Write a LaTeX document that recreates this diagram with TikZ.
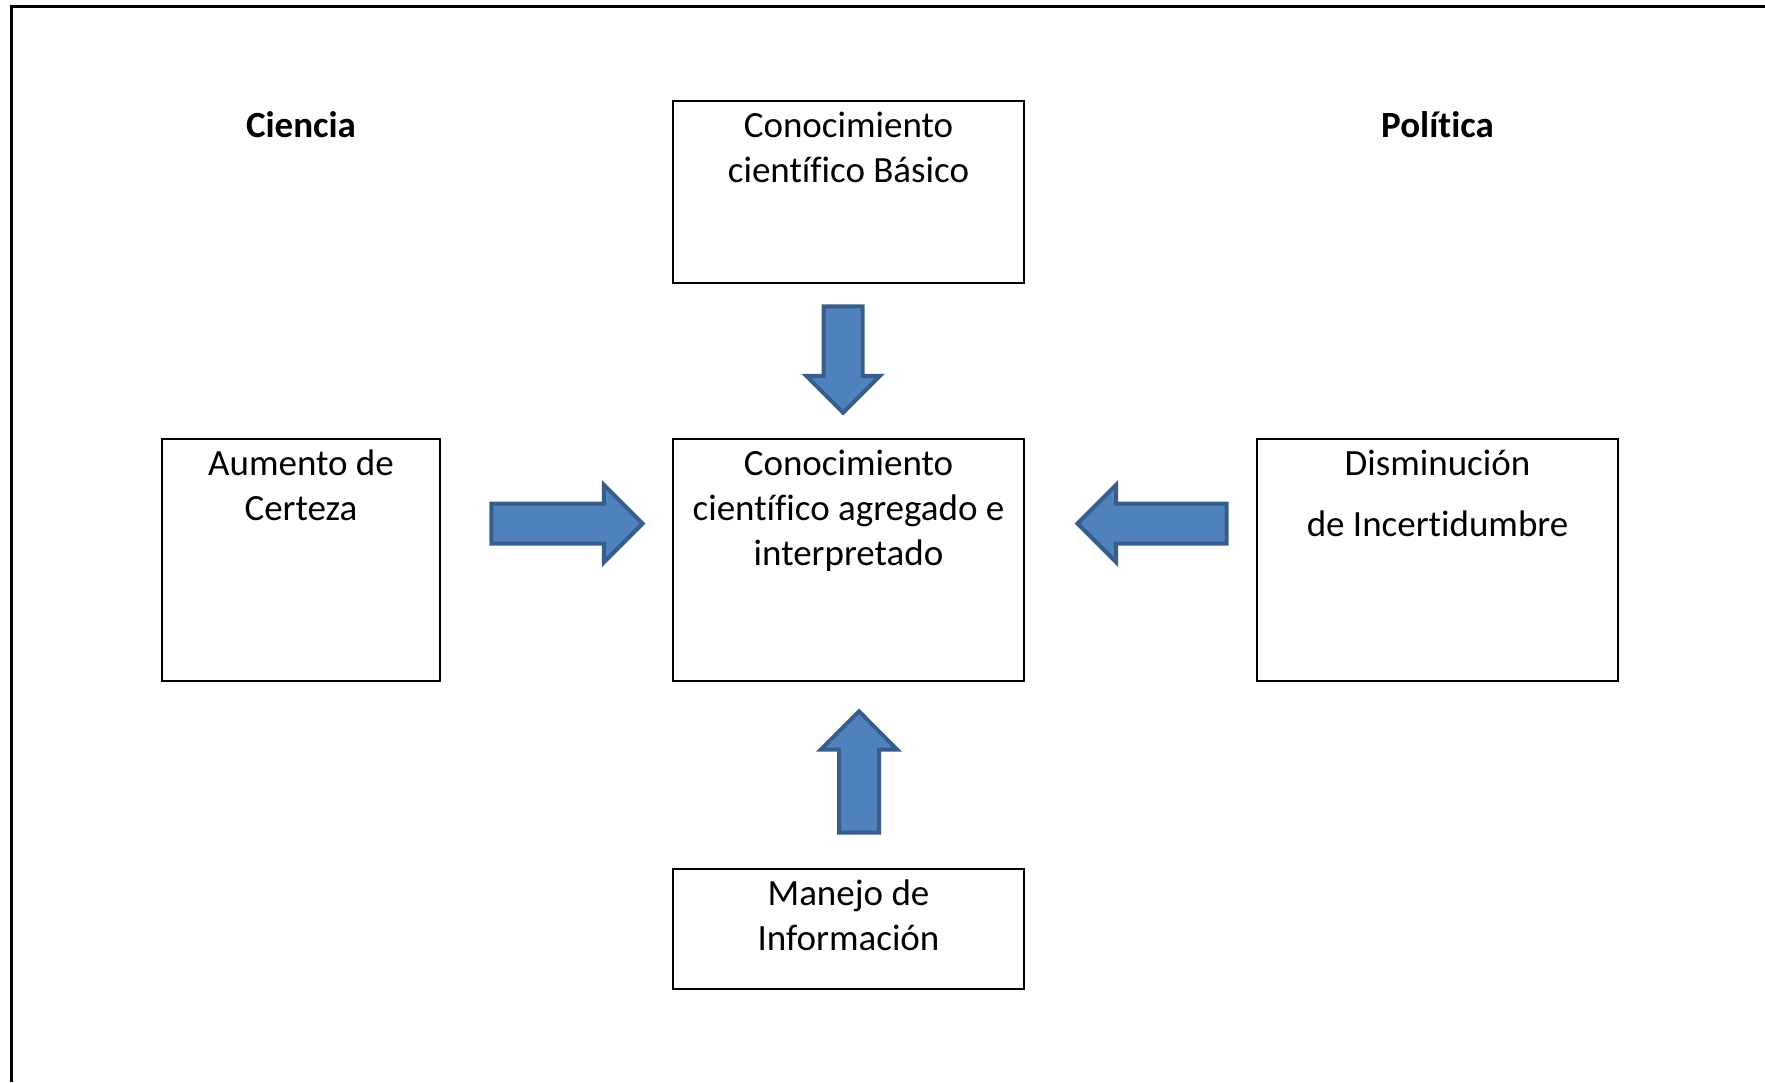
\documentclass[tikz,border=0pt]{standalone}
\usepackage{fontspec}
\setmainfont{Carlito}[Ligatures=NoCommon]
\usepackage{tikz}
\usetikzlibrary{positioning,shapes.arrows}

\definecolor{arrowfill}{HTML}{4F81BD}
\definecolor{arrowline}{HTML}{385D8A}

\tikzset{
	box/.style={draw, line width=1.2pt, minimum width=175.5pt, inner sep=0pt},
	txt/.style={anchor=north, align=center, inner sep=0pt,
		font=\fontsize{18.5}{22.5}\selectfont},
	title/.style={anchor=base, inner sep=0pt,
		font=\fontsize{18.5}{22.5}\selectfont\bfseries},
	blockarrow/.style={single arrow, draw=arrowline, fill=arrowfill,
		line width=2pt, inner xsep=0pt, inner ysep=8.75pt, anchor=tip,
		single arrow tip angle=90, single arrow head extend=8.6pt}
}

\begin{document}
\begin{tikzpicture}[x=0.5pt, y=-0.5pt]
	\useasboundingbox (0,0) rectangle (1765,1082);
	
	% Frame
	\draw[line width=1.5pt] (11,1082) -- (11,6) -- (1765,6);
	
	% Titles
	\node[title] (ciencia) at (301,137.5) {Ciencia};
	\node[title] (politica) at (1437.5,137.5) {Política};
	
	% Boxes
	\node[box, minimum height=91pt] (basico) at (848.5,192) {};
	\node[box, minimum height=121pt] (agregado) at (848.5,560) {};
	\node[box, minimum width=139pt, minimum height=121pt] (certeza) at (301,560) {};
	\node[box, minimum width=180.5pt, minimum height=121pt] (incertidumbre) at (1437.5,560) {};
	\node[box, minimum height=60pt] (manejo) at (848.5,929) {};
	
	% Box texts
	\node[txt, below=2.8pt of basico.north] (basicotxt) {\strut Conocimiento\\científico Básico};
	\node[txt, below=2.8pt of agregado.north] (agregadotxt) {\strut Conocimiento\\científico agregado e\\interpretado};
	\node[txt, below=2.8pt of certeza.north] (certezatxt) {\strut Aumento de\\Certeza};
	\node[txt, below=2.8pt of incertidumbre.north] (incertidumbretxt) {\strut Disminución\\[8pt]de Incertidumbre};
	\node[txt, below=2.8pt of manejo.north] (manejotxt) {\strut Manejo de\\Información};
	
	% Block arrows
	\node[blockarrow, rotate=-90, minimum height=53.2pt] (flechabasico) at (843,415.5) {};
	\node[blockarrow, minimum height=75.6pt, inner ysep=9pt, single arrow head extend=9.4pt] (flechacerteza) at (645.5,523.5) {};
	\node[blockarrow, rotate=180, minimum height=74.6pt, inner ysep=9pt, single arrow head extend=9.4pt] (flechaincert) at (1074.6,523.5) {};
	\node[blockarrow, rotate=90, minimum height=60.7pt, inner ysep=9pt, single arrow head extend=9.1pt] (flechamanejo) at (859,708.5) {};
\end{tikzpicture}
\end{document}
